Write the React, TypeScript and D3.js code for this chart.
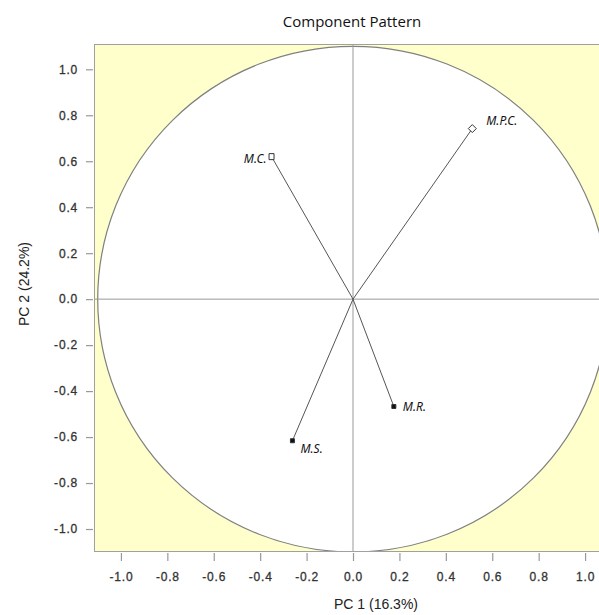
import React, { useRef, useEffect } from "react";
import * as d3 from "d3";

const variables = ["M.P.C.", "M.C.", "M.S.", "M.R."];
const pc1 = [0.514, -0.351, -0.261, 0.176];
const pc2 = [0.742, 0.62, -0.616, -0.467];
const markers = ["diamond", "square", "filled", "filled"];
const ticks = [-1.0, -0.8, -0.6, -0.4, -0.2, 0.0, 0.2, 0.4, 0.6, 0.8, 1.0];

function App() {
  const ref = useRef<HTMLDivElement>(null);

  function drawChart() {
    const [width, height] = [599, 615];
    const x = d3.scaleLinear().domain([-1.116, 1.116]).range([94, 612]);
    const y = d3.scaleLinear().domain([-1.1, 1.11]).range([552, 44]);

    d3.select(ref.current).selectAll("*").remove();
    const svg = d3
      .select(ref.current)
      .append("svg")
      .attr("width", width)
      .attr("height", height)
      .style("position", "absolute")
      .style("left", 0)
      .style("top", 0)
      .style("background", "#fff");

    const [x0, x1] = x.range();
    const [y0, y1] = y.range();

    svg.append("defs").append("clipPath").attr("id", "plot")
      .append("rect")
      .attr("x", x0).attr("y", y1).attr("width", x1 - x0).attr("height", y0 - y1);

    const g = svg.append("g").attr("clip-path", "url(#plot)");

    g.append("rect")
      .attr("x", x0).attr("y", y1).attr("width", x1 - x0).attr("height", y0 - y1)
      .attr("fill", "#ffffcc");

    g.append("ellipse")
      .attr("cx", x(0)).attr("cy", y(0))
      .attr("rx", x(1.1) - x(0)).attr("ry", y(0) - y(1.1))
      .attr("fill", "#fff").attr("stroke", "#808080").attr("stroke-width", 1.2);

    g.append("line")
      .attr("x1", x0).attr("x2", x1).attr("y1", y(0)).attr("y2", y(0))
      .attr("stroke", "#999");
    g.append("line")
      .attr("x1", x(0)).attr("x2", x(0)).attr("y1", y1).attr("y2", y0)
      .attr("stroke", "#999");

    g.append("rect")
      .attr("x", x0).attr("y", y1).attr("width", x1 - x0).attr("height", y0 - y1)
      .attr("fill", "none").attr("stroke", "#a0a0a0").attr("stroke-width", 2);

    const data = variables.map((v, i) => ({ name: v, px: pc1[i], py: pc2[i], m: markers[i] }));

    const pts = g.append("g");
    pts.selectAll("line.vec")
      .data(data)
      .join("line")
      .attr("class", "vec")
      .attr("x1", x(0)).attr("y1", y(0))
      .attr("x2", (d) => x(d.px)).attr("y2", (d) => y(d.py))
      .attr("stroke", "#555").attr("stroke-width", 1);

    pts.selectAll("path.mk")
      .data(data)
      .join("path")
      .attr("class", "mk")
      .attr("transform", (d) => `translate(${x(d.px)},${y(d.py)})`)
      .attr("d", (d) =>
        d.m === "diamond"
          ? "M0,-4L4,0L0,4L-4,0Z"
          : d.m === "square"
          ? "M-2.5,-3L2.5,-3L2.5,3L-2.5,3Z"
          : "M-2,-2L2,-2L2,2L-2,2Z"
      )
      .attr("fill", (d) => (d.m === "filled" ? "#111" : "#fff"))
      .attr("stroke", "#333").attr("stroke-width", 1);

    const labelPos: Record<string, [number, number, string]> = {
      "M.P.C.": [14, -4, "start"],
      "M.C.": [-5, 6, "end"],
      "M.S.": [8, 12, "start"],
      "M.R.": [9, 5, "start"],
    };
    pts.selectAll("text")
      .data(data)
      .join("text")
      .attr("x", (d) => x(d.px) + labelPos[d.name][0])
      .attr("y", (d) => y(d.py) + labelPos[d.name][1])
      .attr("text-anchor", (d) => labelPos[d.name][2])
      .attr("font-family", "'Noto Sans', sans-serif")
      .attr("font-style", "italic")
      .attr("font-size", 12)
      .attr("fill", "#111")
      .text((d) => d.name);

    const fmt = (d: number) => d.toFixed(1);
    const xAxis = svg.append("g").attr("transform", `translate(0,${y0 + 1})`)
      .call(d3.axisBottom(x).tickValues(ticks).tickFormat((d) => fmt(+d)).tickSize(8).tickPadding(11));
    const yAxis = svg.append("g").attr("transform", `translate(${x0 - 1},0)`)
      .call(d3.axisLeft(y).tickValues(ticks).tickFormat((d) => fmt(+d)).tickSize(7).tickPadding(8));
    [xAxis, yAxis].forEach((a) => {
      a.select(".domain").remove();
      a.selectAll(".tick line").attr("stroke", "#999").attr("stroke-width", 1.2);
      a.selectAll(".tick text")
        .attr("font-family", "Arial, 'Liberation Sans', sans-serif")
        .attr("font-size", 12)
        .attr("fill", "#333")
        .attr("stroke", "#333")
        .attr("stroke-width", 0.3)
        .attr("letter-spacing", 0.8);
    });

    svg.append("text")
      .attr("x", 352).attr("y", 27)
      .attr("text-anchor", "middle")
      .attr("font-family", "'Open Sans', sans-serif")
      .attr("font-size", 15)
      .attr("fill", "#111")
      .text("Component Pattern");

    svg.append("text")
      .attr("x", 376).attr("y", 609)
      .attr("text-anchor", "middle")
      .attr("font-family", "Arial, 'Liberation Sans', sans-serif")
      .attr("font-size", 14)
      .attr("fill", "#222")
      .text("PC  1 (16.3%)");

    svg.append("text")
      .attr("transform", `translate(29,${284}) rotate(-90)`)
      .attr("text-anchor", "middle")
      .attr("font-family", "Arial, 'Liberation Sans', sans-serif")
      .attr("font-size", 14)
      .attr("fill", "#222")
      .text("PC  2 (24.2%)");
  }

  useEffect(() => {
    drawChart();
  }, []);
  return <div ref={ref} />;
}

export default App;
